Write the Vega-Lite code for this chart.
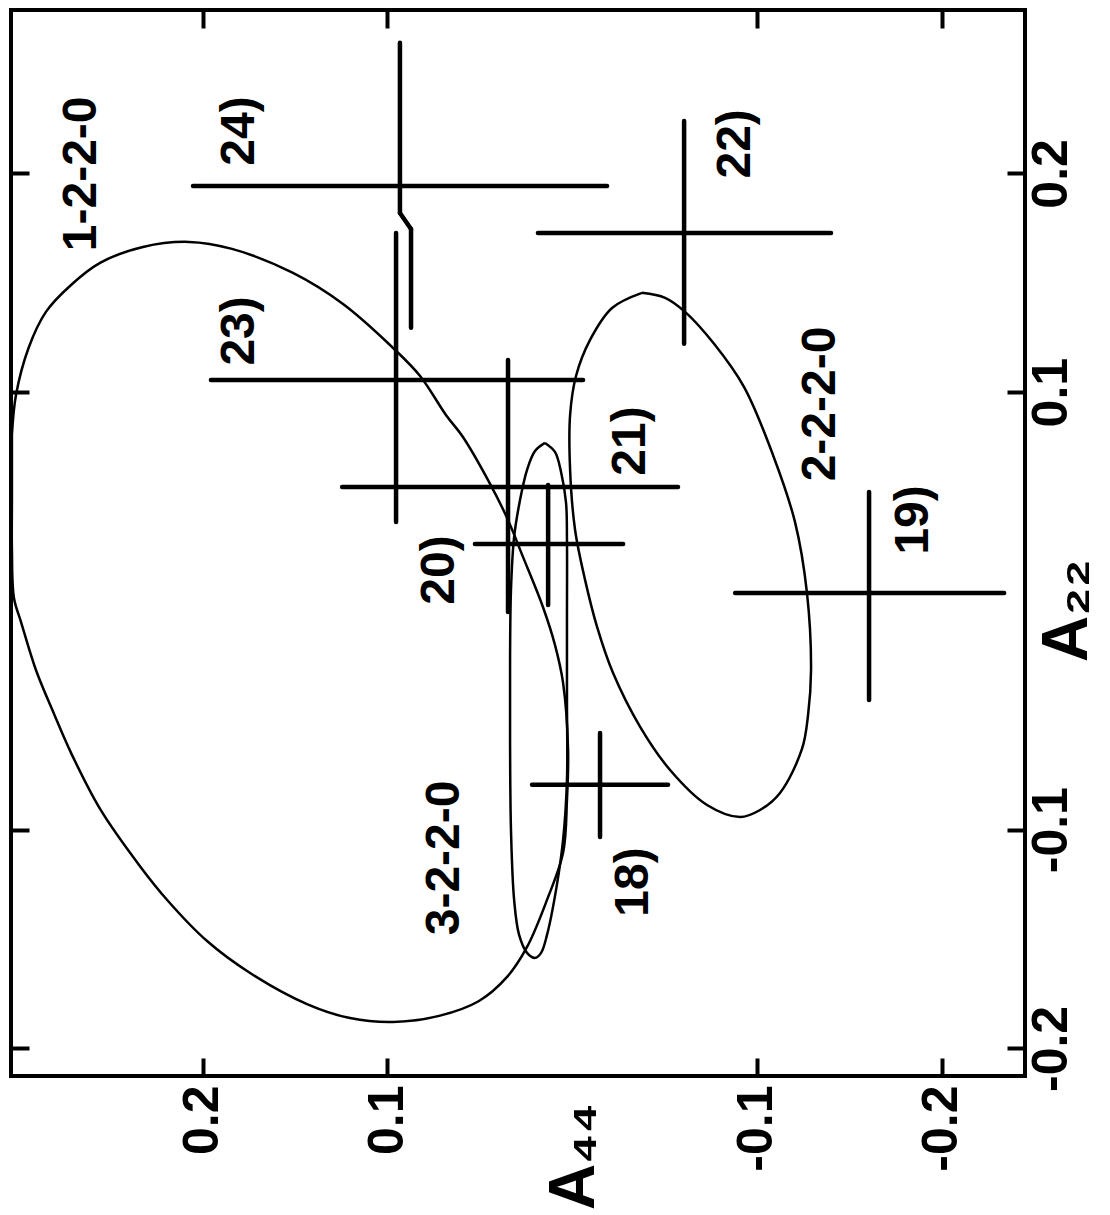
{
  "$schema": "https://vega.github.io/schema/vega-lite/v6.json",
  "width": 1014,
  "height": 1066,
  "autosize": {"type": "none"},
  "padding": {"left": 11, "top": 10, "right": 85, "bottom": 139},
  "background": "white",
  "config": {
    "view": {"stroke": "black", "strokeWidth": 4},
    "axis": {
      "domain": false,
      "grid": false,
      "tickColor": "black",
      "tickWidth": 4,
      "tickSize": -18,
      "labelFont": "Liberation Sans",
      "labelFontWeight": "bold",
      "labelFontSize": 50,
      "labelColor": "black",
      "titleFont": "Liberation Sans",
      "titleFontWeight": "bold",
      "titleFontSize": 64,
      "titleColor": "black",
      "labelOverlap": false,
      "labelFlush": false
    }
  },
  "datasets": {
    "curves": [
      {"c": "1-2-2-0", "i": 0, "a44": 0.3032, "a22": 0.0805},
      {"c": "1-2-2-0", "i": 1, "a44": 0.3010, "a22": 0.0987},
      {"c": "1-2-2-0", "i": 2, "a44": 0.2942, "a22": 0.1202},
      {"c": "1-2-2-0", "i": 3, "a44": 0.2848, "a22": 0.1367},
      {"c": "1-2-2-0", "i": 4, "a44": 0.2712, "a22": 0.1490},
      {"c": "1-2-2-0", "i": 5, "a44": 0.2555, "a22": 0.1591},
      {"c": "1-2-2-0", "i": 6, "a44": 0.2323, "a22": 0.1664},
      {"c": "1-2-2-0", "i": 7, "a44": 0.2074, "a22": 0.1687},
      {"c": "1-2-2-0", "i": 8, "a44": 0.1841, "a22": 0.1655},
      {"c": "1-2-2-0", "i": 9, "a44": 0.1511, "a22": 0.1545},
      {"c": "1-2-2-0", "i": 10, "a44": 0.1240, "a22": 0.1403},
      {"c": "1-2-2-0", "i": 11, "a44": 0.0969, "a22": 0.1202},
      {"c": "1-2-2-0", "i": 12, "a44": 0.0823, "a22": 0.1074},
      {"c": "1-2-2-0", "i": 13, "a44": 0.0683, "a22": 0.0896},
      {"c": "1-2-2-0", "i": 14, "a44": 0.0591, "a22": 0.0795},
      {"c": "1-2-2-0", "i": 15, "a44": 0.0450, "a22": 0.0590},
      {"c": "1-2-2-0", "i": 16, "a44": 0.0352, "a22": 0.0425},
      {"c": "1-2-2-0", "i": 17, "a44": 0.0266, "a22": 0.0247},
      {"c": "1-2-2-0", "i": 18, "a44": 0.0158, "a22": 0.0018},
      {"c": "1-2-2-0", "i": 19, "a44": 0.0093, "a22": -0.0155},
      {"c": "1-2-2-0", "i": 20, "a44": 0.0049, "a22": -0.0329},
      {"c": "1-2-2-0", "i": 21, "a44": 0.0022, "a22": -0.0635},
      {"c": "1-2-2-0", "i": 22, "a44": 0.0028, "a22": -0.0864},
      {"c": "1-2-2-0", "i": 23, "a44": 0.0049, "a22": -0.1106},
      {"c": "1-2-2-0", "i": 24, "a44": 0.0136, "a22": -0.1321},
      {"c": "1-2-2-0", "i": 25, "a44": 0.0244, "a22": -0.1536},
      {"c": "1-2-2-0", "i": 26, "a44": 0.0352, "a22": -0.1673},
      {"c": "1-2-2-0", "i": 27, "a44": 0.0504, "a22": -0.1783},
      {"c": "1-2-2-0", "i": 28, "a44": 0.0720, "a22": -0.1851},
      {"c": "1-2-2-0", "i": 29, "a44": 0.0969, "a22": -0.1879},
      {"c": "1-2-2-0", "i": 30, "a44": 0.1202, "a22": -0.1861},
      {"c": "1-2-2-0", "i": 31, "a44": 0.1435, "a22": -0.1797},
      {"c": "1-2-2-0", "i": 32, "a44": 0.1743, "a22": -0.1655},
      {"c": "1-2-2-0", "i": 33, "a44": 0.1976, "a22": -0.1509},
      {"c": "1-2-2-0", "i": 34, "a44": 0.2187, "a22": -0.1326},
      {"c": "1-2-2-0", "i": 35, "a44": 0.2344, "a22": -0.1161},
      {"c": "1-2-2-0", "i": 36, "a44": 0.2555, "a22": -0.0905},
      {"c": "1-2-2-0", "i": 37, "a44": 0.2712, "a22": -0.0649},
      {"c": "1-2-2-0", "i": 38, "a44": 0.2804, "a22": -0.0471},
      {"c": "1-2-2-0", "i": 39, "a44": 0.2902, "a22": -0.0270},
      {"c": "1-2-2-0", "i": 40, "a44": 0.2983, "a22": -0.0050},
      {"c": "1-2-2-0", "i": 41, "a44": 0.3021, "a22": 0.0059},
      {"c": "1-2-2-0", "i": 42, "a44": 0.3032, "a22": 0.0279},
      {"c": "1-2-2-0", "i": 43, "a44": 0.3032, "a22": 0.0507},
      {"c": "1-2-2-0", "i": 44, "a44": 0.3032, "a22": 0.0805},
      {"c": "2-2-2-0", "i": 0, "a44": -0.0378, "a22": 0.1454},
      {"c": "2-2-2-0", "i": 1, "a44": -0.0503, "a22": 0.1431},
      {"c": "2-2-2-0", "i": 2, "a44": -0.0611, "a22": 0.1367},
      {"c": "2-2-2-0", "i": 3, "a44": -0.0768, "a22": 0.1221},
      {"c": "2-2-2-0", "i": 4, "a44": -0.0930, "a22": 0.1024},
      {"c": "2-2-2-0", "i": 5, "a44": -0.1087, "a22": 0.0713},
      {"c": "2-2-2-0", "i": 6, "a44": -0.1206, "a22": 0.0407},
      {"c": "2-2-2-0", "i": 7, "a44": -0.1271, "a22": 0.0082},
      {"c": "2-2-2-0", "i": 8, "a44": -0.1293, "a22": -0.0270},
      {"c": "2-2-2-0", "i": 9, "a44": -0.1277, "a22": -0.0475},
      {"c": "2-2-2-0", "i": 10, "a44": -0.1244, "a22": -0.0631},
      {"c": "2-2-2-0", "i": 11, "a44": -0.1125, "a22": -0.0832},
      {"c": "2-2-2-0", "i": 12, "a44": -0.1017, "a22": -0.0910},
      {"c": "2-2-2-0", "i": 13, "a44": -0.0909, "a22": -0.0942},
      {"c": "2-2-2-0", "i": 14, "a44": -0.0730, "a22": -0.0887},
      {"c": "2-2-2-0", "i": 15, "a44": -0.0530, "a22": -0.0727},
      {"c": "2-2-2-0", "i": 16, "a44": -0.0368, "a22": -0.0530},
      {"c": "2-2-2-0", "i": 17, "a44": -0.0221, "a22": -0.0283},
      {"c": "2-2-2-0", "i": 18, "a44": -0.0135, "a22": -0.0073},
      {"c": "2-2-2-0", "i": 19, "a44": -0.0070, "a22": 0.0142},
      {"c": "2-2-2-0", "i": 20, "a44": -0.0016, "a22": 0.0370},
      {"c": "2-2-2-0", "i": 21, "a44": 0.0011, "a22": 0.0645},
      {"c": "2-2-2-0", "i": 22, "a44": 0.0011, "a22": 0.0896},
      {"c": "2-2-2-0", "i": 23, "a44": -0.0021, "a22": 0.1074},
      {"c": "2-2-2-0", "i": 24, "a44": -0.0097, "a22": 0.1239},
      {"c": "2-2-2-0", "i": 25, "a44": -0.0216, "a22": 0.1385},
      {"c": "2-2-2-0", "i": 26, "a44": -0.0378, "a22": 0.1454},
      {"c": "3-2-2-0", "i": 0, "a44": 0.0147, "a22": 0.0768},
      {"c": "3-2-2-0", "i": 1, "a44": 0.0093, "a22": 0.0727},
      {"c": "3-2-2-0", "i": 2, "a44": 0.0060, "a22": 0.0635},
      {"c": "3-2-2-0", "i": 3, "a44": 0.0033, "a22": 0.0494},
      {"c": "3-2-2-0", "i": 4, "a44": 0.0028, "a22": 0.0325},
      {"c": "3-2-2-0", "i": 5, "a44": 0.0028, "a22": -0.0041},
      {"c": "3-2-2-0", "i": 6, "a44": 0.0028, "a22": -0.0407},
      {"c": "3-2-2-0", "i": 7, "a44": 0.0028, "a22": -0.0773},
      {"c": "3-2-2-0", "i": 8, "a44": 0.0049, "a22": -0.1047},
      {"c": "3-2-2-0", "i": 9, "a44": 0.0087, "a22": -0.1275},
      {"c": "3-2-2-0", "i": 10, "a44": 0.0136, "a22": -0.1481},
      {"c": "3-2-2-0", "i": 11, "a44": 0.0168, "a22": -0.1563},
      {"c": "3-2-2-0", "i": 12, "a44": 0.0201, "a22": -0.1586},
      {"c": "3-2-2-0", "i": 13, "a44": 0.0244, "a22": -0.1563},
      {"c": "3-2-2-0", "i": 14, "a44": 0.0287, "a22": -0.1481},
      {"c": "3-2-2-0", "i": 15, "a44": 0.0314, "a22": -0.1321},
      {"c": "3-2-2-0", "i": 16, "a44": 0.0331, "a22": -0.1001},
      {"c": "3-2-2-0", "i": 17, "a44": 0.0336, "a22": -0.0590},
      {"c": "3-2-2-0", "i": 18, "a44": 0.0336, "a22": -0.0224},
      {"c": "3-2-2-0", "i": 19, "a44": 0.0331, "a22": 0.0096},
      {"c": "3-2-2-0", "i": 20, "a44": 0.0314, "a22": 0.0338},
      {"c": "3-2-2-0", "i": 21, "a44": 0.0282, "a22": 0.0507},
      {"c": "3-2-2-0", "i": 22, "a44": 0.0244, "a22": 0.0645},
      {"c": "3-2-2-0", "i": 23, "a44": 0.0201, "a22": 0.0731},
      {"c": "3-2-2-0", "i": 24, "a44": 0.0147, "a22": 0.0768}
    ],
    "segments": [
      {"id": "18", "a44": 0.0217, "a22": -0.0795, "a44b": -0.0519, "a22b": -0.0795},
      {"id": "18", "a44": -0.0151, "a22": -0.0558, "a44b": -0.0151, "a22b": -0.1033},
      {"id": "19", "a44": -0.0882, "a22": 0.0082, "a44b": -0.2338, "a22b": 0.0082},
      {"id": "19", "a44": -0.1607, "a22": 0.0544, "a44b": -0.1607, "a22b": -0.0407},
      {"id": "20", "a44": 0.0526, "a22": 0.0306, "a44b": -0.0276, "a22b": 0.0306},
      {"id": "20", "a44": 0.0130, "a22": 0.0576, "a44b": 0.0130, "a22b": 0.0027},
      {"id": "21", "a44": 0.1245, "a22": 0.0567, "a44b": -0.0573, "a22b": 0.0567},
      {"id": "21", "a44": 0.0347, "a22": 0.1147, "a44b": 0.0347, "a22b": -0.0005},
      {"id": "22", "a44": 0.0185, "a22": 0.1728, "a44b": -0.1401, "a22b": 0.1728},
      {"id": "22", "a44": -0.0606, "a22": 0.2240, "a44b": -0.0606, "a22b": 0.1221},
      {"id": "23", "a44": 0.1955, "a22": 0.1056, "a44b": -0.0059, "a22b": 0.1056},
      {"id": "23", "a44": 0.0953, "a22": 0.1728, "a44b": 0.0953, "a22b": 0.0407},
      {"id": "24", "a44": 0.2052, "a22": 0.1943, "a44b": -0.0189, "a22b": 0.1943},
      {"id": "24", "a44": 0.0932, "a22": 0.2597, "a44b": 0.0932, "a22b": 0.1819},
      {"id": "24", "a44": 0.0932, "a22": 0.1819, "a44b": 0.0872, "a22b": 0.1746},
      {"id": "24", "a44": 0.0872, "a22": 0.1746, "a44b": 0.0872, "a22b": 0.1294}
    ],
    "labels": [
      {"t": "1-2-2-0", "a44": 0.2653, "a22": 0.1998},
      {"t": "24)", "a44": 0.1798, "a22": 0.2194},
      {"t": "23)", "a44": 0.1798, "a22": 0.1280},
      {"t": "20)", "a44": 0.0715, "a22": 0.0187},
      {"t": "21)", "a44": -0.0319, "a22": 0.0777},
      {"t": "22)", "a44": -0.0887, "a22": 0.2135},
      {"t": "2-2-2-0", "a44": -0.1347, "a22": 0.0946},
      {"t": "19)", "a44": -0.1851, "a22": 0.0416},
      {"t": "3-2-2-0", "a44": 0.0688, "a22": -0.1129},
      {"t": "18)", "a44": -0.0335, "a22": -0.1239}
    ]
  },
  "resolve": {"axis": {"x": "independent", "y": "independent"}},
  "layer": [
    {
      "mark": {"type": "rule", "color": "black", "strokeWidth": 2},
      "encoding": {
        "y": {"datum": 0, "type": "quantitative", "scale": {"domain": [-0.2126, 0.2747], "nice": false, "zero": false}, "axis": null}
      }
    },
    {
      "mark": {"type": "rule", "color": "black", "strokeWidth": 2},
      "encoding": {
        "x": {"datum": 0, "type": "quantitative", "scale": {"domain": [-0.2451, 0.3037], "reverse": true, "nice": false, "zero": false}, "axis": null}
      }
    },
    {
      "data": {"name": "curves"},
      "mark": {"type": "line", "color": "black", "strokeWidth": 2.5, "interpolate": "catmull-rom", "clip": true},
      "encoding": {
        "x": {"field": "a44", "type": "quantitative", "scale": {"domain": [-0.2451, 0.3037], "reverse": true, "nice": false, "zero": false},
          "axis": {"orient": "bottom", "values": [-0.2, -0.1, 0.1, 0.2], "labelAngle": 270, "labelAlign": "right", "labelBaseline": "middle", "labelPadding": 27,
            "labelExpr": "datum.value < 0 ? '-' + format(-datum.value, '.1f') : format(datum.value, '.1f')",
            "title": "A₄₄", "titleAngle": 270, "titleAlign": "center", "titleBaseline": "middle", "titleX": 563, "titleY": 80}},
        "y": {"field": "a22", "type": "quantitative", "scale": {"domain": [-0.2126, 0.2747], "nice": false, "zero": false},
          "axis": {"orient": "right", "values": [-0.2, -0.1, 0.1, 0.2], "labelAngle": 270, "labelAlign": "center", "labelBaseline": "top", "labelPadding": 19,
            "labelExpr": "datum.value < 0 ? '-' + format(-datum.value, '.1f') : format(datum.value, '.1f')",
            "title": "A₂₂", "titleAngle": 270, "titleAlign": "center", "titleBaseline": "middle", "titleX": 42, "titleY": 600}},
        "detail": {"field": "c"},
        "order": {"field": "i", "type": "quantitative"}
      }
    },
    {
      "data": {"name": "segments"},
      "mark": {"type": "rule", "color": "black", "strokeWidth": 4.5, "strokeCap": "round"},
      "encoding": {
        "x": {"field": "a44", "type": "quantitative", "scale": {"domain": [-0.2451, 0.3037], "reverse": true, "nice": false, "zero": false},
          "axis": {"orient": "top", "values": [-0.2, -0.1, 0.1, 0.2], "labels": false, "title": null}},
        "x2": {"field": "a44b"},
        "y": {"field": "a22", "type": "quantitative", "scale": {"domain": [-0.2126, 0.2747], "nice": false, "zero": false},
          "axis": {"orient": "left", "values": [-0.2, -0.1, 0.1, 0.2], "labels": false, "title": null}},
        "y2": {"field": "a22b"}
      }
    },
    {
      "data": {"name": "labels"},
      "mark": {"type": "text", "color": "black", "font": "Liberation Sans", "fontWeight": "bold", "fontSize": 48, "angle": 270, "align": "center", "baseline": "middle"},
      "encoding": {
        "x": {"field": "a44", "type": "quantitative", "axis": null},
        "y": {"field": "a22", "type": "quantitative", "axis": null},
        "text": {"field": "t"}
      }
    }
  ]
}
